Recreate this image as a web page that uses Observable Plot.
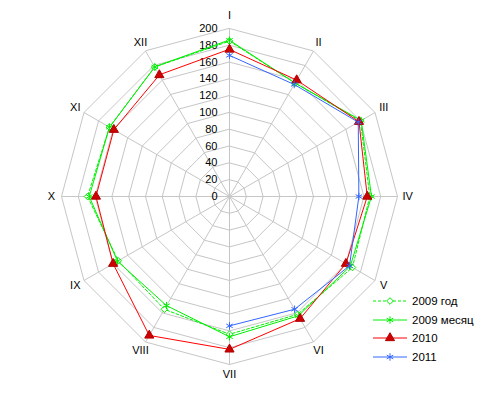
<!DOCTYPE html>
<html><head><meta charset="utf-8">
<script src="https://cdn.jsdelivr.net/npm/d3@7"></script>
<script src="https://cdn.jsdelivr.net/npm/@observablehq/plot@0.6"></script>
<style>
body{margin:0;background:#fff;font-family:"Liberation Sans",Arial,sans-serif;}
#wrap{position:relative;width:489px;height:394px;}
#legend{position:absolute;left:372px;top:292px;width:117px;font-size:11.5px;color:#000;white-space:nowrap;}
.row{height:18.6px;display:flex;align-items:center;}
.row svg{flex-shrink:0;}
</style>
</head><body><div id="wrap"><div id="chart"></div><div id="legend"></div></div>
<script>
const months = ["I","II","III","IV","V","VI","VII","VIII","IX","X","XI","XII"];
const ticks = [0,20,40,60,80,100,120,140,160,180,200];
const s2009god = [185,156,180,167,169,162,164,155,153,169,165,178];
const s2009mes = [186,156,181,169,166,164,167,150,154,167,165,178];
const s2010 = [175,160,178,164,160,168,182,191,160,159,159,167];
const s2011 = [168,154,177,154,165,155,154];
const seriesNames = ["2009 год","2009 месяц","2010","2011"];

const W = 489, H = 394, cx = 229, cy = 196, k = 168/200;
const ang = i => i * 2*Math.PI/12;
const px = (i, r) => r*Math.sin(ang(i));
const py = (i, r) => r*Math.cos(ang(i));
const pts = (vals, name) => vals.map((v,i)=>({i, v, name, x:px(i,v), y:py(i,v)}));

const styles = {
  "2009 год": {stroke:"#00ee00", dash:"3,2", symbol:"diamond2", fill:"#fff", r:3, sw:1},
  "2009 месяц": {stroke:"#00ee00", dash:null, symbol:"asterisk", fill:"none", r:3.5, sw:1},
  "2010": {stroke:"#ff0000", dash:null, symbol:"triangle", fill:"#cc0000", r:3.4, sw:1},
  "2011": {stroke:"#3366ff", dash:null, symbol:"asterisk", fill:"none", r:3.5, sw:1}
};

const grid = ticks.filter(t=>t>0).flatMap(t => months.map((m,i)=>({t, x:px(i,t), y:py(i,t)})));
const spokes = months.map((m,i)=>({x1:0,y1:0,x2:px(i,200),y2:py(i,200)}));
const labels = months.map((m,i)=>({m, x:px(i,i===0?216:212), y:py(i,i===0?216:212)}));
const tickPts = ticks.map(t=>({t, x:0, y:t}));

const data = {
  "2009 год": pts(s2009god,"2009 год"),
  "2009 месяц": pts(s2009mes,"2009 месяц"),
  "2010": pts(s2010,"2010"),
  "2011": pts(s2011,"2011")
};

const marks = [
  Plot.line(grid, {x:"x", y:"y", z:"t", curve:"linear-closed", stroke:"#c6c6c6", strokeWidth:1}),
  Plot.link(spokes, {x1:"x1", y1:"y1", x2:"x2", y2:"y2", stroke:"#c6c6c6", strokeWidth:1}),
  Plot.text(tickPts, {x:"x", y:"y", text:d=>String(d.t), textAnchor:"end", dx:-12, fontSize:11, fill:"#000"}),
  Plot.text(labels, {x:"x", y:"y", text:"m", fontSize:11, fill:"#000"})
];
for (const name of seriesNames) {
  const st = styles[name];
  marks.push(Plot.line(data[name], {x:"x", y:"y", curve: name==="2011" ? "linear" : "linear-closed",
    stroke:st.stroke, strokeWidth:st.sw, strokeDasharray:st.dash}));
}
for (const name of seriesNames) {
  const st = styles[name];
  marks.push(Plot.dot(data[name], {x:"x", y:"y", symbol:()=>st.symbol, r:st.r,
    stroke: name==="2010" ? "#b00000" : st.stroke, fill:st.fill, strokeWidth:1}));
}

const chart = Plot.plot({
  width: W, height: H, margin: 0,
  style: {fontFamily:'"Liberation Sans", Arial, sans-serif', background:"#fff"},
  x: {domain:[-cx/k, (W-cx)/k], range:[0,W], axis:null},
  y: {domain:[-(H-cy)/k, cy/k], range:[H,0], axis:null},
  symbol: {type:"identity"},
  marks
});
document.getElementById("chart").append(chart);

// legend
const leg = d3.select("#legend");
for (const name of seriesNames) {
  const st = styles[name];
  const row = leg.append("div").attr("class","row");
  const svg = row.append("svg").attr("width",36).attr("height",12);
  svg.append("line").attr("x1",1).attr("x2",35).attr("y1",6).attr("y2",6)
    .attr("stroke",st.stroke).attr("stroke-dasharray",st.dash);
  const sym = {diamond2:d3.symbolDiamond2, asterisk:d3.symbolAsterisk, triangle:d3.symbolTriangle}[st.symbol];
  const sz = Math.PI * st.r * st.r;
  svg.append("path").attr("d", d3.symbol(sym, sz)()).attr("transform","translate(18,6)")
    .attr("stroke", name==="2010" ? "#b00000" : st.stroke).attr("fill", st.fill);
  row.append("span").style("margin-left","4px").text(name);
}
</script>
</body></html>
